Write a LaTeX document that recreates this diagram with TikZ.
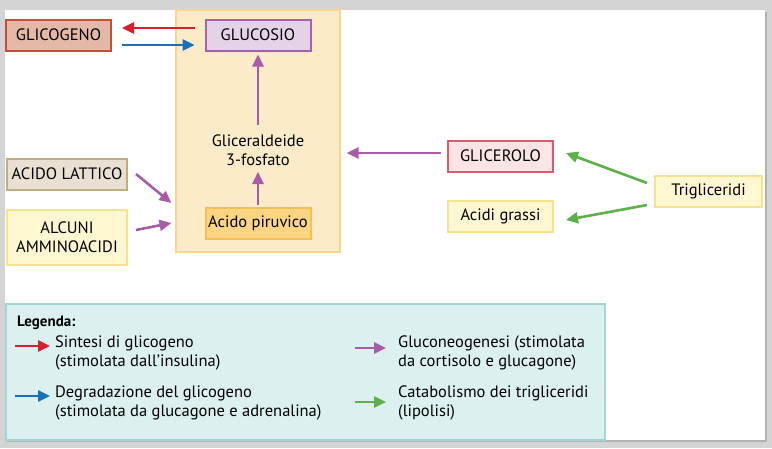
\documentclass[tikz,border=0pt]{standalone}
\usepackage{fontspec}
\setmainfont{PT Sans}
\usetikzlibrary{positioning,arrows.meta,calc}
\definecolor{frame}{HTML}{D4D4D4}
\definecolor{cellbg}{HTML}{FCEBC8}
\definecolor{cellbd}{HTML}{F8D68A}
\definecolor{glubg}{HTML}{E6D2E8}
\definecolor{glubd}{HTML}{A860A8}
\definecolor{glibg}{HTML}{E3B8A6}
\definecolor{glibd}{HTML}{C0503A}
\definecolor{latbg}{HTML}{E9E0D1}
\definecolor{latbd}{HTML}{BFAE84}
\definecolor{yelbg}{HTML}{FFF7D2}
\definecolor{yelbd}{HTML}{F8E38A}
\definecolor{pirbg}{HTML}{FBD583}
\definecolor{pirbd}{HTML}{F6BF55}
\definecolor{cerbg}{HTML}{FBE3E6}
\definecolor{cerbd}{HTML}{DD5A6A}
\definecolor{legbg}{HTML}{DDF0F0}
\definecolor{legbd}{HTML}{A6D6D4}
\definecolor{ared}{HTML}{D7202F}
\definecolor{ablue}{HTML}{1A70B8}
\definecolor{apurple}{HTML}{A85CA8}
\definecolor{agreen}{HTML}{5DB04A}
\begin{document}
\begin{tikzpicture}[x=1pt,y=-1pt,
font=\fontsize{16.5}{18}\selectfont,
box/.style ={rectangle, draw, line width=2pt, inner sep=0pt, align=center, minimum width=105pt, minimum height=31pt},
flow/.style ={line width=2.6pt, -{Triangle[length=12pt,width=11pt]}},
legtext/.style ={anchor=north west, align=left, inner sep=0pt, font=\fontsize{16.5}{19}\selectfont}
]
%frame and panel
\fill[frame] (0,0) rectangle (772,448);
\fill[black!30] (7,12) rectangle (767,442);
\fill[white] (5,10) rectangle (765,440);
%cell
\path (258,131) node[box, draw=cellbd, fill=cellbg, minimum width=164pt, minimum height=242pt, line width=1.2pt] (cell) {};
%boxes
\path (258,35) node[box, draw=glubd, fill=glubg] (glucosio) {GLUCOSIO}
(58.5,35) node[box, draw=glibd, fill=glibg] (glicogeno) {GLICOGENO}
(258,150) node[align=center, font=\fontsize{16.5}{19}\selectfont] (gliceraldeide) {Gliceraldeide\\3-fosfato}
(258,223) node[box, draw=pirbd, fill=pirbg] (piruvico) {Acido piruvico}
(67,174) node[box, draw=latbd, fill=latbg, minimum width=120pt] (lattico) {ACIDO LATTICO}
(67,237) node[box, draw=yelbd, fill=yelbg, minimum width=120pt, minimum height=55pt, font=\fontsize{16.5}{19}\selectfont] (ammino) {ALCUNI\\AMMINOACIDI}
(500.5,156) node[box, draw=cerbd, fill=cerbg] (glicerolo) {GLICEROLO}
(708.5,191) node[box, draw=yelbd, fill=yelbg, minimum width=107pt] (trig) {Trigliceridi}
(500.5,216) node[box, draw=yelbd, fill=yelbg] (grassi) {Acidi grassi};
%arrows
\draw[flow, ared] ($(glucosio.west)+(-10,-7)$) -- ($(glicogeno.east)+(10,-7)$);
\draw[flow, ablue] ($(glicogeno.east)+(10,10)$) -- ($(glucosio.west)+(-10,10)$);
\draw[flow, apurple] ($(gliceraldeide.north)+(0,-6)$) -- ($(glucosio.south)+(0,3)$);
\draw[flow, apurple] ($(piruvico.north)+(0,-2)$) -- ($(gliceraldeide.south)+(0,3)$);
\draw[flow, apurple] ($(lattico.east)+(8,0)$) -- ($(cell.west)+(-4,72)$);
\draw[flow, apurple] ($(ammino.east)+(8,-7)$) -- ($(cell.west)+(-4,92)$);
\draw[flow, apurple] ($(glicerolo.west)+(-6,-3)$) -- ($(cell.east)+(6,22)$);
\draw[flow, agreen] ($(trig.west)+(-7,-8)$) -- ($(glicerolo.east)+(12,-3)$);
\draw[flow, agreen] ($(trig.west)+(-7,14)$) -- ($(grassi.east)+(12,4)$);
%legend
\path (305.5,372) node[box, draw=legbd, fill=legbg, minimum width=599pt, minimum height=136pt, line width=1.2pt] (legend) {};
\path (17,316) node[legtext, font=\fontsize{15}{16}\selectfont\bfseries] (legenda) {Legenda:}
(55,336) node[legtext] (t1) {Sintesi di glicogeno\\(stimolata dall’insulina)}
(55,386) node[legtext] (t2) {Degradazione del glicogeno\\(stimolata da glucagone e adrenalina)}
(398,336) node[legtext] (t3) {Gluconeogenesi (stimolata\\da cortisolo e glucagone)}
(398,386) node[legtext] (t4) {Catabolismo dei trigliceridi\\(lipolisi)};
\draw[flow, ared] ($(t1.north west)+(-40,10)$) -- ($(t1.north west)+(-5,10)$);
\draw[flow, ablue] ($(t2.north west)+(-40,10)$) -- ($(t2.north west)+(-5,10)$);
\draw[flow, apurple] ($(t3.north west)+(-43,12)$) -- ($(t3.north west)+(-12,12)$);
\draw[flow, agreen] ($(t4.north west)+(-43,16)$) -- ($(t4.north west)+(-12,16)$);
\end{tikzpicture}
\end{document}
